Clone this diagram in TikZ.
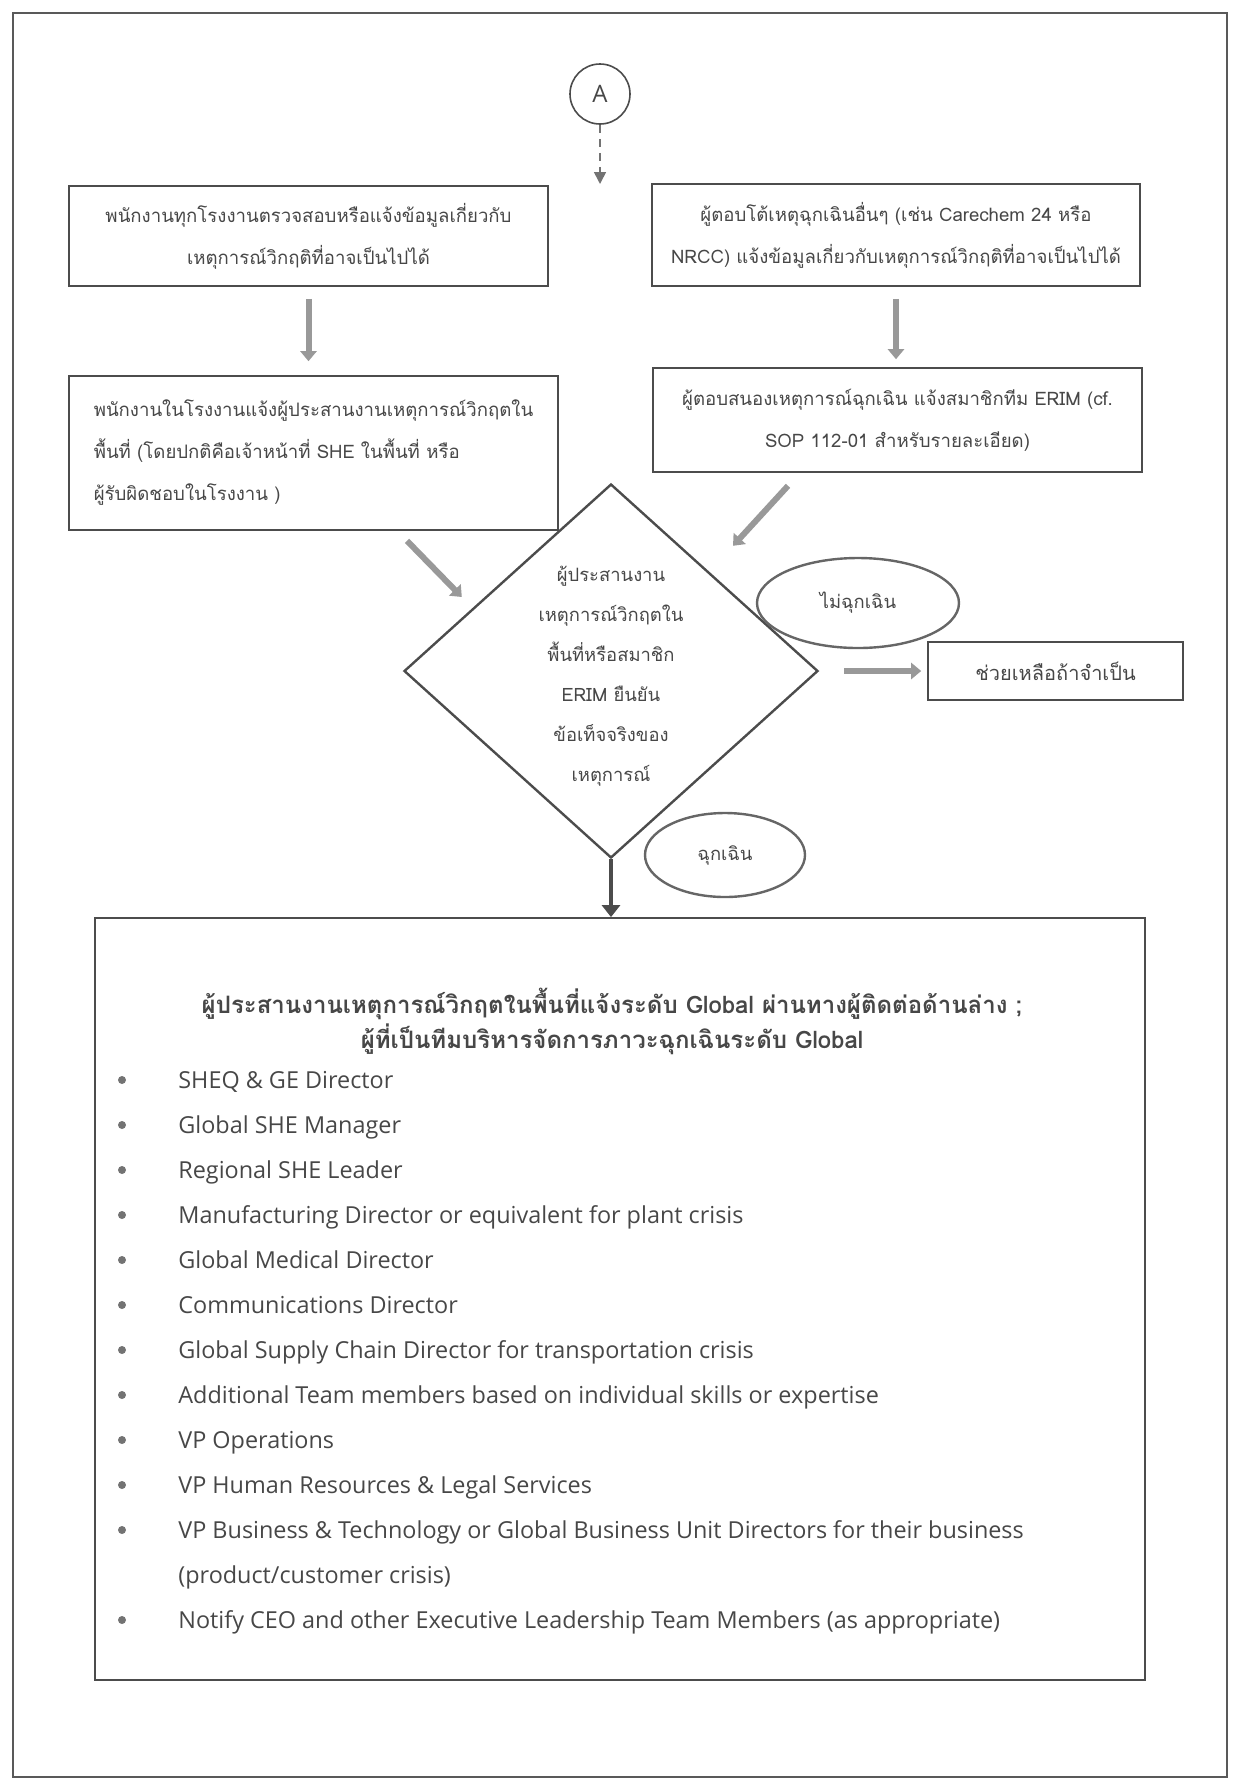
\documentclass[tikz,border=0pt]{standalone}
\usepackage{fontspec}
\setmainfont{Open Sans}
\newfontfamily\thaifont[Script=Thai]{Loma}
\usetikzlibrary{shapes.geometric,arrows.meta}

\begin{document}
\begin{tikzpicture}[x=0.5pt,y=-0.5pt,
  every node/.style={text=black!72},
  stepbox/.style={draw=black!70,line width=0.8pt,rectangle,inner sep=0pt,
    font=\thaifont\fontsize{9.3}{21}\selectfont,align=center},
  decision/.style={draw=black!70,line width=1.2pt,diamond,inner sep=0pt,
    minimum width=207pt,minimum height=187pt},
  tag/.style={draw=black!60,line width=1.2pt,ellipse,inner sep=0pt,
    font=\thaifont\fontsize{9.2}{12}\selectfont},
  blockarrow/.style={draw=black!40,line width=3pt,-{Triangle[length=5pt,width=8pt]}},
  mainarrow/.style={draw=black!70,line width=2pt,-{Triangle[length=6pt,width=9pt]}},
  dasharrow/.style={draw=black!55,line width=0.8pt,dash pattern=on 4pt off 3pt,
    -{Triangle[length=6pt,width=6pt]}},
  bul/.style={circle,fill=black!55,inner sep=0pt,minimum size=4pt},
  item/.style={anchor=base west,inner sep=0pt,font=\fontsize{11.7}{14}\selectfont}]

  \useasboundingbox (0,0) rectangle (1240,1784);
  \draw[black!65,line width=1pt] (13,13) rectangle (1227,1777);

  \node[circle,draw=black!70,line width=0.8pt,minimum size=30pt,inner sep=0pt,
    font=\fontsize{12}{14}\selectfont] (circA) at (600,94) {A};
  \coordinate (aend) at (600,184);

  \node[stepbox,minimum width=239.5pt,minimum height=50pt] (box1L) at (308.5,236)
    {พนักงานทุกโรงงานตรวจสอบหรือแจ้งข้อมูลเกี่ยวกับ\\เหตุการณ์วิกฤติที่อาจเป็นไปได้};
  \node[stepbox,minimum width=244pt,minimum height=51pt] (box1R) at (896,235)
    {ผู้ตอบโต้เหตุฉุกเฉินอื่นๆ (เช่น Carechem 24 หรือ\\NRCC) แจ้งข้อมูลเกี่ยวกับเหตุการณ์วิกฤติที่อาจเป็นไปได้};
  \node[stepbox,align=left,minimum width=244.5pt,minimum height=77pt] (box2L) at (313.5,453)
    {พนักงานในโรงงานแจ้งผู้ประสานงานเหตุการณ์วิกฤตใน\\พื้นที่ (โดยปกติคือเจ้าหน้าที่ SHE ในพื้นที่ หรือ\\ผู้รับผิดชอบในโรงงาน )};
  \node[stepbox,minimum width=244.5pt,minimum height=52pt] (box2R) at (897.5,420)
    {ผู้ตอบสนองเหตุการณ์ฉุกเฉิน แจ้งสมาชิกทีม ERIM (cf.\\SOP 112-01 สำหรับรายละเอียด)};

  \node[decision] (dia) at (611,671) {};
  \node[font=\thaifont\fontsize{9.2}{20}\selectfont,align=center] (diatxt) at (611,676)
    {ผู้ประสานงาน\\เหตุการณ์วิกฤตใน\\พื้นที่หรือสมาชิก\\ERIM ยืนยัน\\ข้อเท็จจริงของ\\เหตุการณ์};

  \node[tag,minimum width=101pt,minimum height=45pt] (noemerg) at (858,603) {ไม่ฉุกเฉิน};
  \node[stepbox,font=\thaifont\fontsize{10}{12}\selectfont,minimum width=127.5pt,
    minimum height=29pt] (help) at (1055.5,671) {ช่วยเหลือถ้าจำเป็น};
  \node[tag,minimum width=80pt,minimum height=42pt] (emerg) at (725,855) {ฉุกเฉิน};

  \node[draw=black!70,line width=0.9pt,minimum width=525pt,minimum height=381pt,
    inner sep=0pt] (teambox) at (620,1299) {};
  \node[font=\thaifont\bfseries\fontsize{12}{17.5}\selectfont,align=center] (head) at (612,1021)
    {ผู้ประสานงานเหตุการณ์วิกฤตในพื้นที่แจ้งระดับ Global ผ่านทางผู้ติดต่อด้านล่าง ;\\ผู้ที่เป็นทีมบริหารจัดการภาวะฉุกเฉินระดับ Global};

  \foreach \y/\txt in {1080/{SHEQ \& GE Director},
      1125/{Global SHE Manager},
      1170/{Regional SHE Leader},
      1215/{Manufacturing Director or equivalent for plant crisis},
      1260/{Global Medical Director},
      1305/{Communications Director},
      1350/{Global Supply Chain Director for transportation crisis},
      1395/{Additional Team members based on individual skills or expertise},
      1440/{VP Operations},
      1485/{VP Human Resources \& Legal Services},
      1530/{VP Business \& Technology or Global Business Unit Directors for their business},
      1620/{Notify CEO and other Executive Leadership Team Members (as appropriate)}}{
    \node[bul] (bul\y) at (122,\y) {};
    \node[item] (item\y) at (178,\y+8) {\txt};
  }
  \node[item] (item1575) at (178,1583) {(product/customer crisis)};

  \draw[dasharrow] (circA) -- (aend);
  \draw[blockarrow,shorten <=6pt,shorten >=7pt] (box1L.south) -- (box1L.south |- box2L.north);
  \draw[blockarrow,shorten <=6pt,shorten >=4pt] (box1R.south) -- (box1R.south |- box2R.north);
  \draw[blockarrow] ([xshift=46.75pt,yshift=-5pt]box2L.south) -- ([xshift=29.5pt,yshift=37pt]dia.west);
  \draw[blockarrow] ([xshift=-54.75pt,yshift=-6.5pt]box2R.south) -- ([xshift=61pt,yshift=-31.5pt]dia.north);
  \draw[blockarrow,shorten <=12.5pt,shorten >=3pt] (dia.east) -- (help.west);
  \draw[mainarrow] (dia.south) -- (dia.south |- teambox.north);
\end{tikzpicture}
\end{document}
